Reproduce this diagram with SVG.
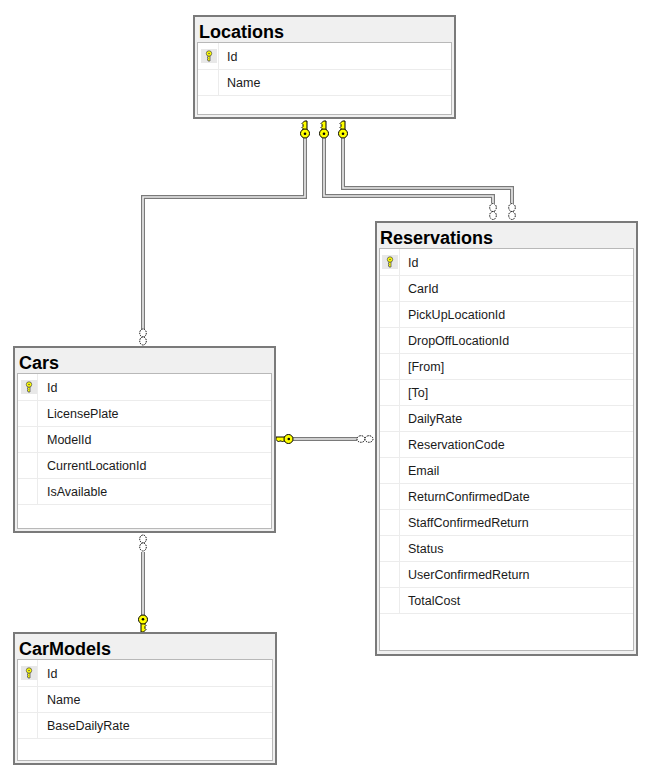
<svg xmlns="http://www.w3.org/2000/svg" xmlns:xlink="http://www.w3.org/1999/xlink" width="655" height="778" viewBox="0 0 655 778">
<style>
.outer{fill:#f0f0f0;stroke:#7a7a7a;stroke-width:2}
.inner{fill:#ffffff;stroke:#b8b8b8;stroke-width:1}
.sep{stroke:#ececec;stroke-width:1;fill:none}
.title{font-family:"Liberation Sans",Arial,sans-serif;font-weight:bold;font-size:18px;fill:#000}
.col{font-family:"Liberation Sans",Arial,sans-serif;font-size:12.5px;fill:#1a1a1a}
.lo{stroke:#7a7a7a;stroke-width:4;fill:none}
.li{stroke:#ececec;stroke-width:1.6;fill:none}
.inf{fill:#fff;stroke:#000;stroke-width:1;stroke-dasharray:1.5 1}
.pkbg{fill:#e8e8e8}
</style>
<defs>
<g id="fk">
<path d="M-0.5,0 L2,0 L2,9 L-2,9 L-2,7.5 L-3,6.5 L-2,5.5 L-2,3.5 L-3,2.5 L-2,1.5 Z" fill="#ffff00" stroke="#000" stroke-width="1"/>
<circle cx="0" cy="12.5" r="4.5" fill="#ffff00" stroke="#000" stroke-width="1"/>
<circle cx="0" cy="12.8" r="1.3" fill="#000"/>
</g>
<g id="pk">
<rect x="-8" y="-7" width="16" height="14" class="pkbg"/>
<path d="M-1,0 L1,0 L1,5 L-1,5 L-1,4 L-2,3.5 L-1,3 L-1,2 L-2,1.5 L-1,1 Z" fill="#ffff00" stroke="#555" stroke-width="0.8"/>
<circle cx="0" cy="-2.5" r="2.7" fill="#ffff00" stroke="#555" stroke-width="0.8"/>
<circle cx="0" cy="-2.5" r="0.8" fill="#555"/>
</g>
</defs>

<g id="connectors">
<path class="lo" d="M305,138 V197 H143 V329"/>
<path class="li" d="M305,138 V197 H143 V329"/>
<path class="lo" d="M324,138 V196 H493 V203"/>
<path class="li" d="M324,138 V196 H493 V203"/>
<path class="lo" d="M343,138 V188 H512 V203"/>
<path class="li" d="M343,138 V188 H512 V203"/>
<path class="lo" d="M293,439 H357"/>
<path class="li" d="M293,439 H357"/>
<path class="lo" d="M143,552 V617"/>
<path class="li" d="M143,552 V617"/>
<use xlink:href="#fk" transform="translate(305,121)"/>
<use xlink:href="#fk" transform="translate(324,121)"/>
<use xlink:href="#fk" transform="translate(343,121)"/>
<use xlink:href="#fk" transform="translate(143,632) rotate(180)"/>
<use xlink:href="#fk" transform="translate(276,439) rotate(-90)"/>
<ellipse class="inf" cx="143" cy="333" rx="3.3" ry="4"/>
<ellipse class="inf" cx="143" cy="341" rx="3.3" ry="4"/>
<ellipse class="inf" cx="493" cy="207.5" rx="3.3" ry="4"/>
<ellipse class="inf" cx="493" cy="215.5" rx="3.3" ry="4"/>
<ellipse class="inf" cx="512" cy="207.5" rx="3.3" ry="4"/>
<ellipse class="inf" cx="512" cy="215.5" rx="3.3" ry="4"/>
<ellipse class="inf" cx="143" cy="539" rx="3.3" ry="4"/>
<ellipse class="inf" cx="143" cy="547" rx="3.3" ry="4"/>
<ellipse class="inf" cx="361" cy="439" rx="4" ry="3.3"/>
<ellipse class="inf" cx="369" cy="439" rx="4" ry="3.3"/>
</g>

<g id="Locations">
<rect class="outer" x="194" y="16" width="261" height="102"/>
<text class="title" x="199" y="38">Locations</text>
<rect class="inner" x="197.5" y="42.5" width="254" height="72"/>
<path class="sep" d="M198,69.5 H451 M198,95.5 H451 M218.5,43 V95"/>
<use xlink:href="#pk" transform="translate(209,56)"/>
<text class="col" x="227" y="61">Id</text>
<text class="col" x="227" y="87">Name</text>
</g>

<g id="Reservations">
<rect class="outer" x="376" y="222" width="261" height="433"/>
<text class="title" x="380" y="244">Reservations</text>
<rect class="inner" x="379.5" y="248.5" width="254" height="402"/>
<path class="sep" d="M380,275.5 H633 M380,301.5 H633 M380,327.5 H633 M380,353.5 H633 M380,379.5 H633 M380,405.5 H633 M380,431.5 H633 M380,457.5 H633 M380,483.5 H633 M380,509.5 H633 M380,535.5 H633 M380,561.5 H633 M380,587.5 H633 M380,613.5 H633 M399.5,249 V613"/>
<use xlink:href="#pk" transform="translate(390,262)"/>
<text class="col" x="408" y="267">Id</text>
<text class="col" x="408" y="293">CarId</text>
<text class="col" x="408" y="319">PickUpLocationId</text>
<text class="col" x="408" y="345">DropOffLocationId</text>
<text class="col" x="408" y="371">[From]</text>
<text class="col" x="408" y="397">[To]</text>
<text class="col" x="408" y="423">DailyRate</text>
<text class="col" x="408" y="449">ReservationCode</text>
<text class="col" x="408" y="475">Email</text>
<text class="col" x="408" y="501">ReturnConfirmedDate</text>
<text class="col" x="408" y="527">StaffConfirmedReturn</text>
<text class="col" x="408" y="553">Status</text>
<text class="col" x="408" y="579">UserConfirmedReturn</text>
<text class="col" x="408" y="605">TotalCost</text>
</g>

<g id="Cars">
<rect class="outer" x="14" y="347" width="261" height="185"/>
<text class="title" x="19" y="369">Cars</text>
<rect class="inner" x="17.5" y="373.5" width="254" height="155"/>
<path class="sep" d="M18,400.5 H271 M18,426.5 H271 M18,452.5 H271 M18,478.5 H271 M18,504.5 H271 M37.5,374 V504"/>
<use xlink:href="#pk" transform="translate(29,387)"/>
<text class="col" x="47" y="392">Id</text>
<text class="col" x="47" y="418">LicensePlate</text>
<text class="col" x="47" y="444">ModelId</text>
<text class="col" x="47" y="470">CurrentLocationId</text>
<text class="col" x="47" y="496">IsAvailable</text>
</g>

<g id="CarModels">
<rect class="outer" x="14" y="633" width="262" height="131"/>
<text class="title" x="19" y="655">CarModels</text>
<rect class="inner" x="17.5" y="659.5" width="255" height="101"/>
<path class="sep" d="M18,686.5 H272 M18,712.5 H272 M18,738.5 H272 M37.5,660 V738"/>
<use xlink:href="#pk" transform="translate(29,673)"/>
<text class="col" x="47" y="678">Id</text>
<text class="col" x="47" y="704">Name</text>
<text class="col" x="47" y="730">BaseDailyRate</text>
</g>
</svg>
